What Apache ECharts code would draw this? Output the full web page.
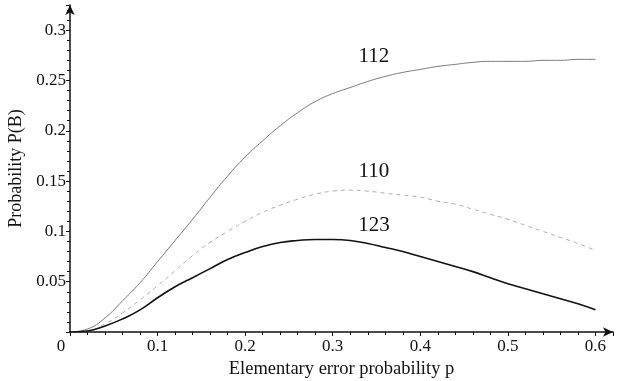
<!DOCTYPE html>
<html>
<head>
<meta charset="utf-8">
<script src="https://cdn.jsdelivr.net/npm/echarts@6/dist/echarts.min.js"></script>
<style>
  html, body { margin: 0; padding: 0; background: #fff; }
  #chart { width: 621px; height: 381px; }
</style>
</head>
<body>
<div id="chart"></div>
<script>
// p values (elementary error probability)
const pValues = [0, 0.02, 0.04, 0.06, 0.08, 0.1, 0.12, 0.14, 0.16, 0.18, 0.2,
  0.22, 0.24, 0.26, 0.28, 0.3, 0.32, 0.34, 0.36, 0.38, 0.4,
  0.42, 0.44, 0.46, 0.48, 0.5, 0.52, 0.54, 0.56, 0.58, 0.6];

// P(B)
const curve112 = [0, 0.003, 0.014, 0.031, 0.049, 0.070, 0.091, 0.112, 0.134, 0.155, 0.174,
  0.190, 0.205, 0.218, 0.229, 0.237, 0.243, 0.249, 0.254, 0.258, 0.261,
  0.264, 0.266, 0.268, 0.269, 0.269, 0.269, 0.270, 0.270, 0.271, 0.271];
const curve110 = [0, 0.001, 0.008, 0.019, 0.032, 0.046, 0.061, 0.076, 0.089, 0.100, 0.110,
  0.119, 0.126, 0.132, 0.137, 0.140, 0.141, 0.140, 0.138, 0.136, 0.134,
  0.130, 0.127, 0.122, 0.117, 0.112, 0.106, 0.100, 0.094, 0.088, 0.081];
const curve123 = [0, 0.001, 0.006, 0.013, 0.022, 0.034, 0.045, 0.054, 0.063, 0.072, 0.079,
  0.085, 0.089, 0.091, 0.092, 0.092, 0.091, 0.088, 0.084, 0.080, 0.075,
  0.070, 0.065, 0.060, 0.054, 0.048, 0.043, 0.038, 0.033, 0.028, 0.022];

// curve names and where their labels sit (data coords)
const curveNames = ['112', '110', '123'];
const labelAt = [[0.347, 0.274], [0.347, 0.160], [0.347, 0.106]];

const serif = '"Liberation Serif", "DejaVu Serif", serif';

function pairs(ys) {
  return pValues.map((p, i) => [p, ys[i]]);
}

function makeSeries(name, ys, idx, lineStyle) {
  return {
    name: name,
    type: 'line',
    smooth: true,
    symbol: 'none',
    data: pairs(ys),
    lineStyle: lineStyle,
    markPoint: {
      symbol: 'rect',
      symbolSize: 2,
      itemStyle: { color: 'rgba(0,0,0,0)' },
      label: {
        show: true,
        position: 'inside',
        formatter: name,
        fontFamily: serif,
        fontSize: 21,
        color: '#111'
      },
      data: [{ coord: labelAt[idx] }]
    },
    z: 3
  };
}

const chart = echarts.init(document.getElementById('chart'));
const option = {
  animation: false,
  backgroundColor: '#fff',
  grid: { left: 70, right: 8, top: 5, bottom: 49, outerBoundsMode: 'none', containLabel: false },
  xAxis: {
    type: 'value',
    min: 0,
    max: 0.62,
    interval: 0.1,
    name: 'Elementary error probability p',
    nameLocation: 'middle',
    nameGap: 24,
    nameTextStyle: { fontFamily: serif, fontSize: 18.5, color: '#111' },
    axisLine: {
      lineStyle: { color: '#111', width: 1.5 },
      symbol: ['none', 'arrow'],
      symbolSize: [7, 10]
    },
    axisTick: { show: true, length: 4, lineStyle: { color: '#111' } },
    minorTick: { show: true, splitNumber: 5, length: 3, lineStyle: { color: '#111' } },
    splitLine: { show: false },
    axisLabel: {
      showMaxLabel: false,
      fontFamily: serif,
      fontSize: 17,
      color: '#111',
      margin: 6,
      formatter: v => v === 0 ? '{z|0}' : String(+v.toFixed(1)),
      rich: { z: { fontFamily: serif, fontSize: 17, color: '#111', padding: [0, 18, 0, 0] } }
    }
  },
  yAxis: {
    type: 'value',
    min: 0,
    max: 0.325,
    interval: 0.05,
    name: 'Probability P(B)',
    nameLocation: 'middle',
    nameGap: 38,
    nameTextStyle: { fontFamily: serif, fontSize: 18, color: '#111' },
    axisLine: {
      lineStyle: { color: '#111', width: 1.5 },
      symbol: ['none', 'arrow'],
      symbolSize: [7, 10]
    },
    axisTick: { show: true, length: 4, lineStyle: { color: '#111' } },
    minorTick: { show: true, splitNumber: 5, length: 3, lineStyle: { color: '#111' } },
    splitLine: { show: false },
    axisLabel: {
      showMinLabel: false,
      showMaxLabel: false,
      fontFamily: serif,
      fontSize: 17,
      color: '#111',
      margin: 4,
      formatter: v => String(+v.toFixed(2))
    }
  },
  series: [
    makeSeries(curveNames[0], curve112, 0, { color: '#777', width: 1 }),
    makeSeries(curveNames[1], curve110, 1, { color: '#aaa', width: 1, type: [4, 4] }),
    makeSeries(curveNames[2], curve123, 2, { color: '#111', width: 1.6 })
  ]
};
chart.setOption(option);
</script>
</body>
</html>
